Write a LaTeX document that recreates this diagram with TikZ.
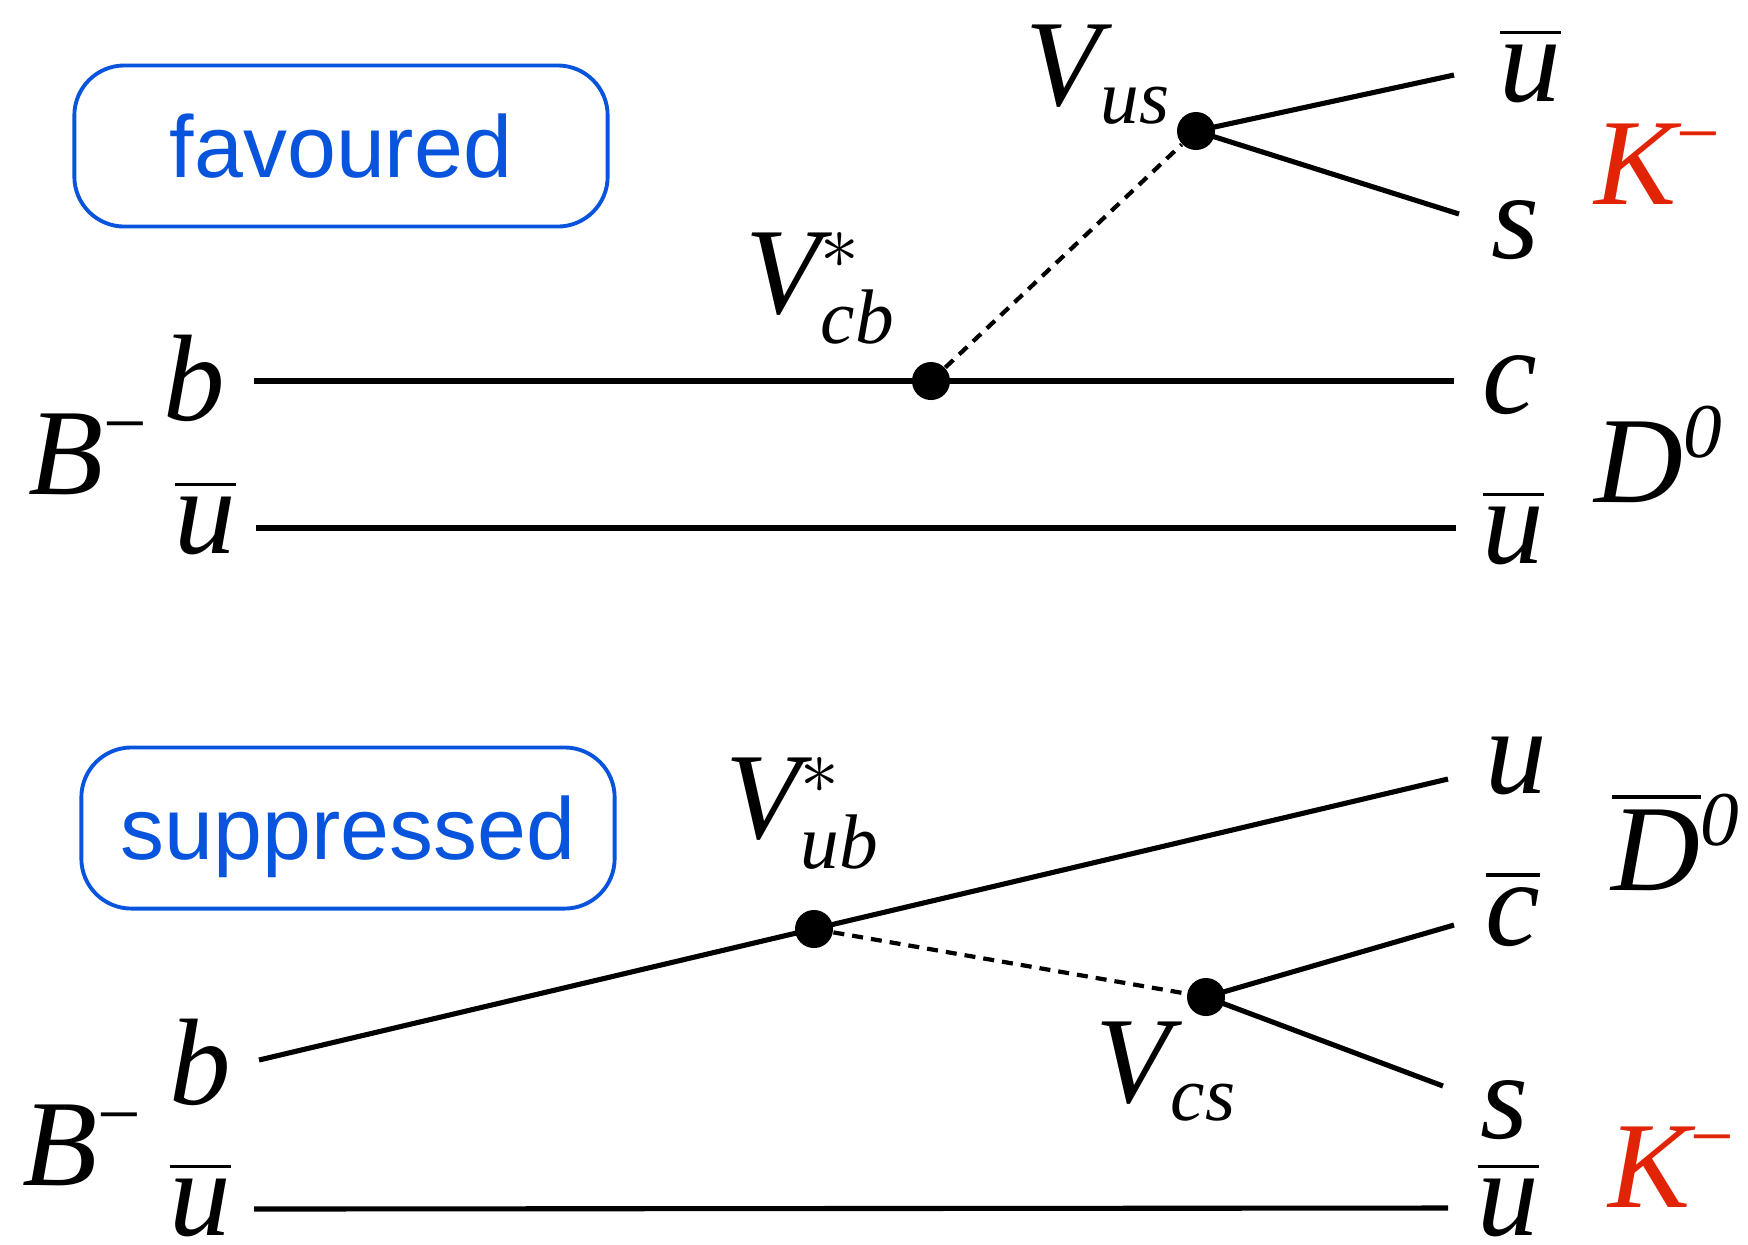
\RequirePackage{fix-cm}
\documentclass[tikz,border=0pt]{standalone}
\usepackage{amsmath}
\usepackage{fontspec}
\setmainfont{Liberation Serif}
\newfontfamily\tagfont{Liberation Sans}
\DeclareMathSizes{35}{35}{22}{17}
\definecolor{tagblue}{RGB}{8,84,220}
\definecolor{kaonred}{RGB}{226,36,6}
\begin{document}
\begin{tikzpicture}[x=0.01cm, y=-0.01cm,
  quark/.style={line width=1.45pt},
  wline/.style={line width=1.2pt, dash pattern=on 0.11cm off 0.08cm},
  vertex/.style={circle, fill, inner sep=0pt, minimum size=0.38cm},
  tag/.style={draw=tagblue, text=tagblue, line width=1.1pt, rounded corners=0.5cm, minimum width=5.33cm, minimum height=1.61cm, text depth=0pt, font=\tagfont\fontsize{25}{30}\selectfont},
  lbl/.style={anchor=base west, inner sep=0pt, font=\fontsize{35}{42}\selectfont}]
\useasboundingbox (0,0) rectangle (1748,1244);
\node[tag] (fav) at (341,146) {favoured};
\node[lbl] (Bm1) at (28,494) {$\mathit{B}^{\text{−}}$};
\node[lbl] (b1) at (163,420) {$\mathit{b}$};
\node[lbl] (ub1) at (174,553) {$\overline{\mathit{u}}$};
\node[lbl] (vcbl) at (745,313) {$\mathit{V}^{*}_{\mathit{cb}}$};
\node[lbl] (vusl) at (1025,105) {$\mathit{V}_{\mathit{us}}$};
\node[lbl] (ub2) at (1499,101) {$\overline{\mathit{u}}$};
\node[lbl] (s1) at (1491,258) {$\mathit{s}$};
\node[lbl, text=kaonred] (K1) at (1594,204) {$\mathit{K}^{\text{−}}$};
\node[lbl] (c1) at (1482,413) {$\mathit{c}$};
\node[lbl] (D1) at (1594,502) {$\mathit{D}^{\text{\itshape 0}}$};
\node[lbl] (ub3) at (1482,563) {$\overline{\mathit{u}}$};
\coordinate (bin1) at (254,381);
\coordinate (cout) at (1454,381);
\coordinate (uin1) at (256,528);
\coordinate (uout1) at (1456,528);
\coordinate (ubout) at (1454,75);
\coordinate (sout1) at (1459,214);
\node[vertex] (vcb) at (931,381) {};
\node[vertex] (vus) at (1196,131) {};
\draw[quark] (bin1) -- (cout);
\draw[quark] (uin1) -- (uout1);
\draw[wline] (vcb) -- (vus);
\draw[quark] (vus.center) -- (ubout);
\draw[quark] (vus.center) -- (sout1);
\node[tag] (sup) at (348,828) {suppressed};
\node[lbl] (Bm2) at (22,1185) {$\mathit{B}^{\text{−}}$};
\node[lbl] (b2) at (169,1104) {$\mathit{b}$};
\node[lbl] (ub4) at (169,1235) {$\overline{\mathit{u}}$};
\node[lbl] (vubl) at (725,838) {$\mathit{V}^{*}_{\mathit{ub}}$};
\node[lbl] (u1) at (1485,793) {$\mathit{u}$};
\node[lbl] (D2) at (1611,890) {\rlap{$\overline{\phantom{\mathit{D}}}$}$\mathit{D}^{\text{\itshape 0}}$};
\node[lbl] (cb1) at (1485,945) {$\overline{\mathit{c}}$};
\node[lbl] (vcsl) at (1095,1102) {$\mathit{V}_{\mathit{cs}}$};
\node[lbl] (s2) at (1480,1138) {$\mathit{s}$};
\node[lbl, text=kaonred] (K2) at (1608,1207) {$\mathit{K}^{\text{−}}$};
\node[lbl] (ub5) at (1477,1235) {$\overline{\mathit{u}}$};
\coordinate (bin2) at (259,1060);
\coordinate (uout2) at (1448,779);
\coordinate (cbout) at (1454,925);
\coordinate (sout2) at (1443,1086);
\coordinate (uin2) at (254,1209);
\coordinate (uout3) at (1448,1208);
\node[vertex] (vub) at (814,929) {};
\node[vertex] (vcs) at (1206,997) {};
\draw[quark] (bin2) -- (uout2);
\draw[quark] (uin2) -- (uout3);
\draw[wline] (vub) -- (vcs);
\draw[quark] (vcs.center) -- (cbout);
\draw[quark] (vcs.center) -- (sout2);
\end{tikzpicture}
\end{document}
